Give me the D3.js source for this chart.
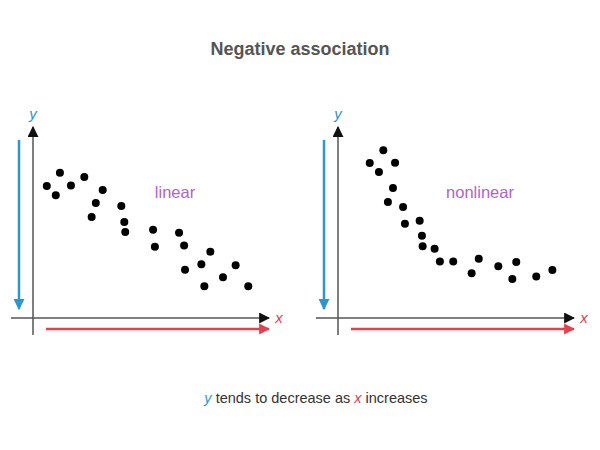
<!DOCTYPE html>
<html>
<head>
<meta charset="utf-8">
<script src="https://cdn.jsdelivr.net/npm/d3@7"></script>
<style>
  body { margin: 0; background: #fff; }
  text { font-family: Arial, "Liberation Sans", sans-serif; }
</style>
</head>
<body>
<script>
// Chart size
const width = 600;
const height = 450;

// Data (arbitrary units, 0-100 on both axes)
const linearX = [6.0, 9.9, 11.7, 16.5, 22.3, 27.3, 25.5, 30.3, 38.4, 39.7, 40.1,
                 52.2, 53.0, 63.5, 65.7, 66.1, 73.2, 77.1, 74.5, 82.6, 88.1, 93.6];
const linearY = [69.5, 64.6, 76.5, 69.8, 74.2, 60.5, 53.2, 67.4, 58.9, 50.5, 45.3,
                 46.5, 37.5, 44.9, 38.1, 25.4, 28.3, 34.9, 16.7, 21.4, 27.7, 16.7];
const nonlinearX = [13.8, 17.8, 19.7, 24.8, 23.9, 21.7, 28.3, 29.1, 35.5, 36.5, 36.8,
                    42.0, 44.3, 50.1, 58.1, 61.2, 69.7, 75.8, 77.5, 86.2, 93.2];
const nonlinearY = [81.6, 76.8, 88.3, 81.7, 68.4, 61.1, 58.4, 49.6, 51.2, 43.3, 37.7,
                    36.5, 29.8, 29.8, 23.5, 31.2, 27.2, 20.5, 29.5, 21.9, 25.3];
const panelLabels = ["linear", "nonlinear"];

const svg = d3.select("body").append("svg")
    .attr("width", width)
    .attr("height", height)
    .attr("viewBox", [0, 0, width, height]);

// arrowhead markers
const defs = svg.append("defs");
[["arrowBlack", "#111"], ["arrowBlue", "#2f95cf"], ["arrowRed", "#e6404f"]].forEach(([id, c]) => {
  defs.append("marker")
      .attr("id", id)
      .attr("viewBox", "0 0 10 10")
      .attr("refX", 9).attr("refY", 5)
      .attr("markerWidth", 11).attr("markerHeight", 11)
      .attr("markerUnits", "userSpaceOnUse")
      .attr("orient", "auto")
    .append("path")
      .attr("d", "M0,0L10,5L0,10Z")
      .attr("fill", c);
});

// Title
svg.append("text")
    .attr("x", 300).attr("y", 55)
    .attr("text-anchor", "middle")
    .attr("font-size", 18).attr("font-weight", "bold")
    .attr("fill", "#555")
    .text("Negative association");

// Caption
const cap = svg.append("text")
    .attr("x", 316).attr("y", 403)
    .attr("text-anchor", "middle")
    .attr("font-size", 14.5)
    .attr("fill", "#333");
cap.append("tspan").attr("fill", "#2f95cf").attr("font-style", "italic").text("y");
cap.append("tspan").text(" tends to decrease as ");
cap.append("tspan").attr("fill", "#e6404f").attr("font-style", "italic").text("x");
cap.append("tspan").text(" increases");

function drawPanel(ox, xs, ys, label) {
  const x = d3.scaleLinear().domain([0, 100]).range([ox, ox + 230]);
  const y = d3.scaleLinear().domain([0, 100]).range([318, 128]);
  const g = svg.append("g");

  // axes
  g.append("line")
      .attr("x1", x(0)).attr("x2", x(0))
      .attr("y1", 335).attr("y2", y(100) - 1)
      .attr("stroke", "#555").attr("stroke-width", 1.5)
      .attr("marker-end", "url(#arrowBlack)");
  g.append("line")
      .attr("x1", x(0) - 22).attr("x2", x(100) + 6)
      .attr("y1", y(0)).attr("y2", y(0))
      .attr("stroke", "#555").attr("stroke-width", 1.5)
      .attr("marker-end", "url(#arrowBlack)");

  // direction arrows
  g.append("line")
      .attr("x1", x(0) - 14).attr("x2", x(0) - 14)
      .attr("y1", 140).attr("y2", 309)
      .attr("stroke", "#2f95cf").attr("stroke-width", 2.5)
      .attr("marker-end", "url(#arrowBlue)");
  g.append("line")
      .attr("x1", x(0) + 13).attr("x2", x(100) + 6)
      .attr("y1", 329).attr("y2", 329)
      .attr("stroke", "#e6404f").attr("stroke-width", 2.5)
      .attr("marker-end", "url(#arrowRed)");

  // axis letters
  g.append("text")
      .attr("x", x(0)).attr("y", 119)
      .attr("text-anchor", "middle")
      .attr("font-size", 15).attr("font-style", "italic")
      .attr("fill", "#2f95cf")
      .text("y");
  g.append("text")
      .attr("x", x(100) + 16).attr("y", 323)
      .attr("text-anchor", "middle")
      .attr("font-size", 15).attr("font-style", "italic")
      .attr("fill", "#e6404f")
      .text("x");

  // panel label
  g.append("text")
      .attr("x", x(0) + 142).attr("y", 198)
      .attr("text-anchor", "middle")
      .attr("font-size", 16.5)
      .attr("fill", "#b064cc")
      .text(label);

  // points
  g.selectAll("circle")
    .data(d3.zip(xs, ys))
    .join("circle")
      .attr("cx", d => x(d[0]))
      .attr("cy", d => y(d[1]))
      .attr("r", 4)
      .attr("fill", "#000");
}

drawPanel(33, linearX, linearY, panelLabels[0]);
drawPanel(338, nonlinearX, nonlinearY, panelLabels[1]);
</script>
</body>
</html>
